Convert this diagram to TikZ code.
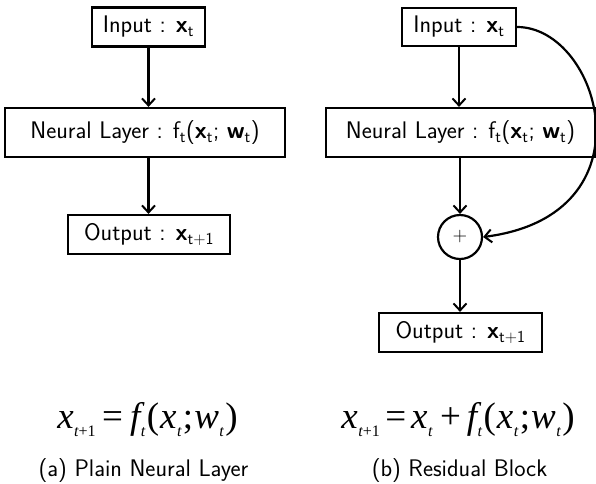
\documentclass[tikz,border=0pt]{standalone}
\usepackage{fontspec}
\usetikzlibrary{arrows.meta}
\newfontfamily\tnr{Liberation Serif}
\newcommand{\eqsub}[1]{\kern0.5pt\raisebox{-8pt}{\fontsize{16}{16}\selectfont #1}\kern1.5pt}
\begin{document}
\begin{tikzpicture}[x=1pt,y=-1pt,
  box/.style={draw, line width=2.2pt, inner sep=0pt, font=\sffamily\fontsize{24}{28}\selectfont},
  arr/.style={line width=2.2pt, -{Straight Barb[length=7pt,width=13pt,line width=2pt]}},
  captext/.style={font=\sffamily\fontsize{24}{28}\selectfont},
  eqn/.style={font=\tnr\fontsize{37}{40}\selectfont}]
\useasboundingbox (0,0) rectangle (596,483);
% (a) plain
\node[box, minimum width=113pt, minimum height=39pt] (lin) at (148.5,27) {Input : \textbf{x}\textsubscript{t}};
\node[box, minimum width=280pt, minimum height=49pt] (lneur) at (145,132.5) {Neural Layer : f\textsubscript{t}(\textbf{x}\textsubscript{t}; \textbf{w}\textsubscript{t})};
\node[box, minimum width=162pt, minimum height=39pt] (lout) at (149,234.5) {Output : \textbf{x}\textsubscript{t+1}};
\draw[arr] (lin.south) -- (lin.south |- lneur.north);
\draw[arr] (lin.south |- lneur.south) -- (lin.south |- lout.north);
% (b) residual
\node[box, minimum width=114pt, minimum height=38pt] (rin) at (459,27) {Input : \textbf{x}\textsubscript{t}};
\node[box, minimum width=269pt, minimum height=49pt] (rneur) at (460.5,132.5) {Neural Layer : f\textsubscript{t}(\textbf{x}\textsubscript{t}; \textbf{w}\textsubscript{t})};
\node[draw, circle, line width=2.2pt, minimum size=44pt, inner sep=0pt, font=\sffamily\fontsize{20}{20}\selectfont] (plus) at (460,237) {+};
\node[box, minimum width=163pt, minimum height=39pt] (rout) at (460.5,332.5) {Output : \textbf{x}\textsubscript{t+1}};
\draw[arr] (rin.south) -- (rin.south |- rneur.north);
\draw[arr] (plus.north |- rneur.south) -- (plus.north);
\draw[arr] (plus.south) -- (plus.south |- rout.north);
\draw[arr] (rin.east) .. controls (600,27) and (655,215) .. (plus.east);
% equations
\node[eqn, anchor=base] (leq) at (147.5,428) {\itshape x\eqsub{t\upshape +1}\kern5pt\upshape=\kern7pt\itshape f\eqsub{t}\upshape(\kern1pt\itshape x\eqsub{t}\upshape;\kern1pt\itshape w\eqsub{t}\upshape)};
\node[eqn, anchor=base] (req) at (458,428) {\itshape x\eqsub{t\upshape +1}\kern4pt\upshape=\kern5pt\itshape x\eqsub{t}\kern6pt\upshape+\kern6pt\itshape f\eqsub{t}\upshape(\kern1pt\itshape x\eqsub{t}\upshape;\kern1pt\itshape w\eqsub{t}\upshape)};
\node[captext, anchor=base] (lcap) at (143.5,476) {(a) Plain Neural Layer};
\node[captext, anchor=base] (rcap) at (459.5,476) {(b) Residual Block};
\end{tikzpicture}
\end{document}
